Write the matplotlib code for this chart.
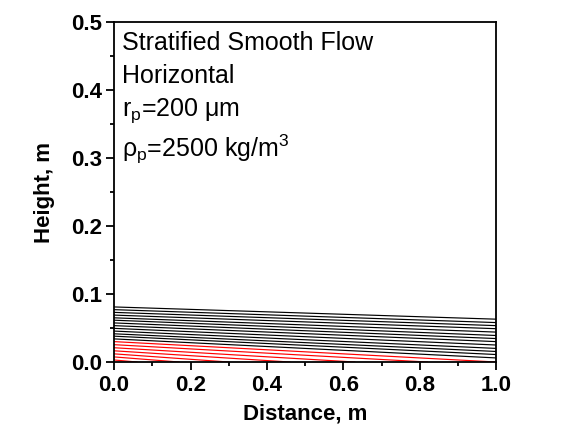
import matplotlib
matplotlib.use("Agg")
import matplotlib.pyplot as plt
from matplotlib.ticker import MultipleLocator, FormatStrFormatter

plt.rcParams['font.family'] = ['Liberation Sans', 'DejaVu Sans']
plt.rcParams['mathtext.fontset'] = 'custom'
plt.rcParams['mathtext.rm'] = 'Liberation Sans'
plt.rcParams['mathtext.default'] = 'regular'

# Trajectories that stay suspended over the 1 m length (black): start height at x=0, height at x=1
black_start = [0.081, 0.077, 0.073, 0.069, 0.065, 0.0615, 0.0575, 0.0535,
               0.0495, 0.0455, 0.0415, 0.038, 0.034]
black_end = [0.063, 0.058, 0.0535, 0.049, 0.044, 0.039, 0.0345, 0.030,
             0.025, 0.020, 0.0155, 0.011, 0.006]

# Trajectories that deposit (red): start height at x=0, deposition distance
red_start = [0.030, 0.0255, 0.021, 0.0165, 0.012, 0.0075, 0.003]
red_dep_x = [1.0, 0.82, 0.63, 0.46, 0.30, 0.17, 0.06]

fig = plt.figure(figsize=(5.62, 4.32), dpi=100)
ax = fig.add_axes([0.203, 0.162, 0.680, 0.787])

for y0, y1 in zip(black_start, black_end):
    ax.plot([0.0, 1.0], [y0, y1], color='black', lw=0.85)
for y0, xd in zip(red_start, red_dep_x):
    ax.plot([0.0, xd], [y0, 0.0], color='red', lw=0.85)

ax.set_xlim(0, 1.0)
ax.set_ylim(0, 0.5)
ax.xaxis.set_major_locator(MultipleLocator(0.2))
ax.xaxis.set_minor_locator(MultipleLocator(0.1))
ax.yaxis.set_major_locator(MultipleLocator(0.1))
ax.yaxis.set_minor_locator(MultipleLocator(0.05))
ax.tick_params(which='both', direction='out', top=False, right=False, width=1.3)
ax.tick_params(which='major', length=5.5, labelsize=16)
ax.tick_params(which='minor', length=3)
ax.tick_params(axis='x', which='major', pad=3.5)
ax.tick_params(axis='y', which='major', pad=3)
for lab in ax.get_xticklabels() + ax.get_yticklabels():
    lab.set_fontweight('bold')
ax.xaxis.set_major_formatter(FormatStrFormatter('%.1f'))
ax.yaxis.set_major_formatter(FormatStrFormatter('%.1f'))
for s in ax.spines.values():
    s.set_linewidth(1.3)

ax.set_xlabel('Distance, m', fontsize=16, fontweight='bold', labelpad=6)
ax.set_ylabel('Height, m', fontsize=16, fontweight='bold', labelpad=12)

ann = ['Stratified Smooth Flow', 'Horizontal',
       'r$_\\mathregular{p}$=200 \u03bcm',
       '\u03c1$_\\mathregular{p}$=2500 kg/m$^\\mathregular{3}$']
ann_y = [0.459, 0.410, 0.362, 0.302]
for t, yy in zip(ann, ann_y):
    ax.text(0.022, yy, t, fontsize=18, va='baseline', ha='left')

fig.savefig('out.png', dpi=100)
